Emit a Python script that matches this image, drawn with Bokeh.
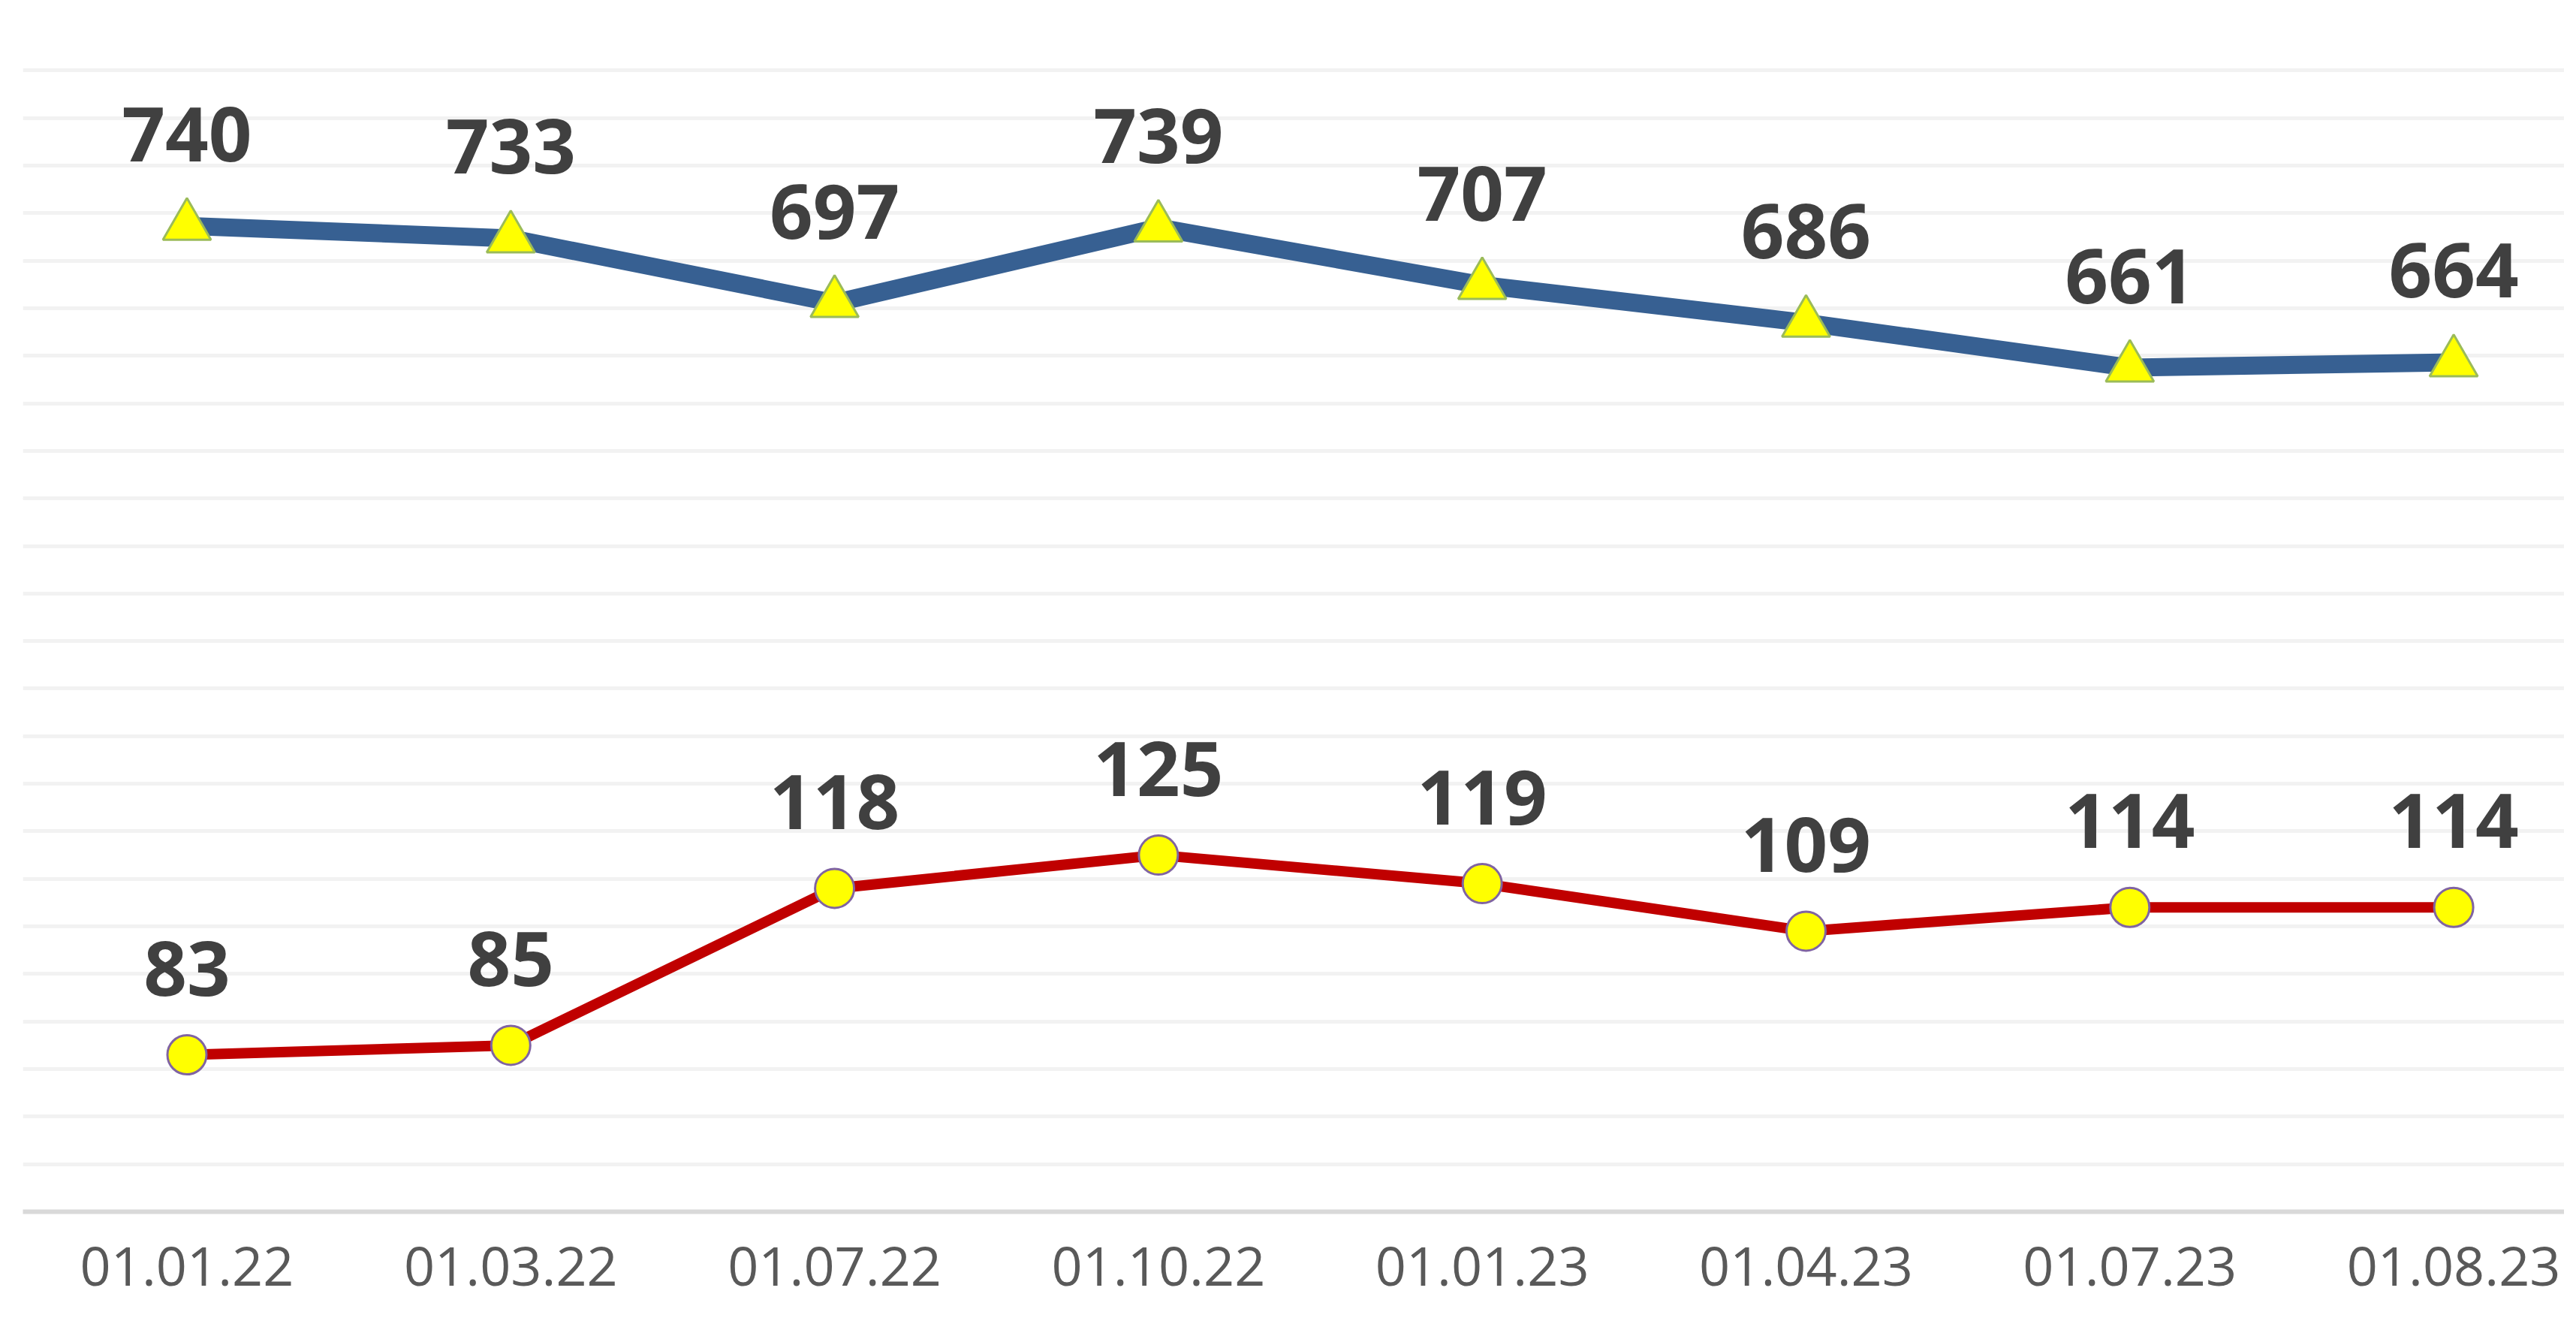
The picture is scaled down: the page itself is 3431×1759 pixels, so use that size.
from bokeh.plotting import figure
from bokeh.layouts import column
from bokeh.models import Range1d, Grid, FixedTicker
from bokeh.core.properties import value
from bokeh.embed import file_html
from bokeh.resources import INLINE

# ---- data ----
dates = ["01.01.22", "01.03.22", "01.07.22", "01.10.22",
         "01.01.23", "01.04.23", "01.07.23", "01.08.23"]
upper_series = [740, 733, 697, 739, 707, 686, 661, 664]
lower_series = [83, 85, 118, 125, 119, 109, 114, 114]

# scale ranges of the two (hidden) value axes
lower_axis_range = (50, 300)
lower_axis_step = 10
upper_axis_range = (191, 853)

idx = list(range(len(dates)))

W = 3415
H_MAIN = 1617
H_LABELS = 1743 - H_MAIN

xr = Range1d(-0.5066, 7.3418)

p = figure(width=W, height=H_MAIN, output_backend="svg", toolbar_location=None,
           x_range=xr, y_range=Range1d(*lower_axis_range),
           y_axis_location=None,
           min_border_left=30, min_border_right=0,
           min_border_top=30, min_border_bottom=4)
p.title.visible = False
p.extra_y_ranges = {"upper": Range1d(*upper_axis_range)}
p.outline_line_color = None
p.background_fill_color = "white"
p.border_fill_color = "white"
p.xgrid.visible = False

grid_ticks = list(range(lower_axis_range[0], lower_axis_range[1] + 1, lower_axis_step))
p.add_layout(Grid(dimension=1, ticker=FixedTicker(ticks=grid_ticks),
                  grid_line_color="#f2f2f2", grid_line_width=5))

ax = p.xaxis[0]
ax.ticker = FixedTicker(ticks=[])
ax.axis_line_color = "#d9d9d9"
ax.axis_line_width = 6
ax.major_tick_line_color = None
ax.minor_tick_line_color = None
ax.major_tick_out = 0
ax.major_tick_in = 0
ax.major_label_standoff = 0
ax.axis_label_standoff = 0

# lower series (red, circles)
p.line(idx, lower_series, line_color="#c00000", line_width=14, line_join="round")
p.scatter(idx, lower_series, marker="circle", size=52,
          fill_color="#ffff00", line_color="#8064a2", line_width=3)

# upper series (blue, triangles)
p.line(idx, upper_series, y_range_name="upper", line_color="#376092",
       line_width=24, line_join="round")
p.scatter(idx, upper_series, y_range_name="upper", marker="triangle", size=64,
          fill_color="#ffff00", line_color="#9bbb59", line_width=3)

# data labels
p.text(x=idx, y=upper_series, text=[str(v) for v in upper_series], y_range_name="upper",
       text_font=value("Open Sans"), text_font_style="bold", text_font_size=value("101px"),
       text_color="#404040", text_align="center", text_baseline="alphabetic", y_offset=-122)
p.text(x=idx, y=lower_series, text=[str(v) for v in lower_series],
       text_font=value("Open Sans"), text_font_style="bold", text_font_size=value("101px"),
       text_color="#404040", text_align="center", text_baseline="alphabetic", y_offset=-115)

# category labels strip (shares the x scale of the chart)
q = figure(width=W, height=H_LABELS, output_backend="svg", toolbar_location=None,
           x_range=xr, y_range=Range1d(0, 1),
           x_axis_location=None, y_axis_location=None,
           min_border_left=30, min_border_right=0,
           min_border_top=0, min_border_bottom=0)
q.title.visible = False
q.outline_line_color = None
q.grid.visible = False
q.text(x=idx, y=[0] * len(idx), text=dates,
       text_font=value("Open Sans"), text_font_size=value("72px"),
       text_color="#595959", text_align="center", text_baseline="alphabetic",
       y_offset=-58)

layout = column(p, q, spacing=0)
open("out.html", "w").write(file_html(layout, INLINE))
